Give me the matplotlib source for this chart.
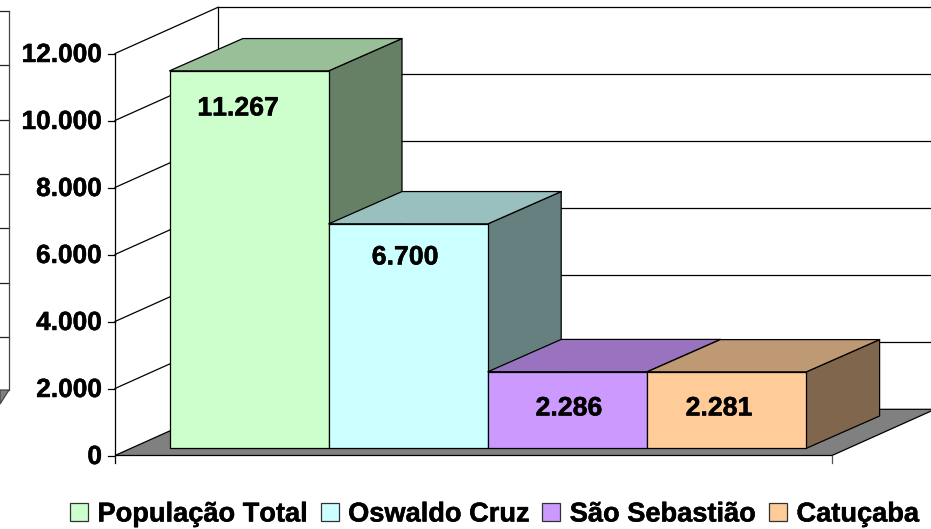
import matplotlib
matplotlib.use('Agg')
import matplotlib.pyplot as plt
import matplotlib.patheffects as pe
from matplotlib.patches import Polygon, Patch

# Dados
categorias = ['População Total', 'Oswaldo Cruz', 'São Sebastião', 'Catuçaba']
populacao = [11267, 6700, 2286, 2281]
rotulos = ['11.267', '6.700', '2.286', '2.281']
ticks = [0, 2000, 4000, 6000, 8000, 10000, 12000]
tick_labels = ['0', '2.000', '4.000', '6.000', '8.000', '10.000', '12.000']

frente = ['#CCFFCC', '#CCFFFF', '#CC99FF', '#FFCC99']
topo = ['#99BF99', '#99BFBF', '#9973BF', '#BF9973']
lado = ['#668066', '#668080', '#664D80', '#80664D']

# Escala: pixels por barra e por habitante
W, H = 931, 529
BAR_PX = 159.2
VAL_PX = 0.0335
X0_PX = 169.5   # inicio da primeira barra
Y0_PX = 455.5   # valor zero no eixo


def xd(px):
    return (px - X0_PX) / BAR_PX


def yd(px):
    return (Y0_PX - px) / VAL_PX


plt.rcParams['font.family'] = ['Liberation Sans', 'DejaVu Sans']
plt.rcParams['font.weight'] = 'bold'
plt.rcParams['text.kerning_factor'] = 6

fig = plt.figure(figsize=(W / 100, H / 100), dpi=100)
ax = fig.add_axes([0, 0, 1, 1])
ax.set_xlim(xd(0), xd(W))
ax.set_ylim(yd(H), yd(0))
ax.axis('off')

# Profundidade da caixa 3D
PAREDE_DX = 103 / BAR_PX
PAREDE_DY = 46.2 / VAL_PX
eixo_esq = xd(115)
eixo_dir = xd(832)
LW = 0.9
# Texto um pouco mais grosso, como no original
grosso = [pe.withStroke(linewidth=0.35, foreground='black')]

# Chao
ax.add_patch(Polygon([(eixo_esq, 0), (eixo_dir, 0),
                      (eixo_dir + PAREDE_DX, PAREDE_DY), (eixo_esq + PAREDE_DX, PAREDE_DY)],
                     facecolor='#808080', edgecolor='black', linewidth=LW, zorder=1))

# Linhas de grade: parede lateral, parede do fundo e marcas do eixo
for t, lab in zip(ticks, tick_labels):
    if t > 0:
        ax.plot([eixo_esq, eixo_esq + PAREDE_DX], [t, t + PAREDE_DY], color='black', lw=LW, zorder=2)
        ax.plot([eixo_esq + PAREDE_DX, eixo_dir + PAREDE_DX], [t + PAREDE_DY, t + PAREDE_DY],
                color='black', lw=LW, zorder=2)
    ax.plot([xd(108), eixo_esq], [t, t], color='black', lw=LW, zorder=2)
    ax.text(xd(102), t - 1.5 / VAL_PX, lab, ha='right', va='center', fontsize=18.9, color='black',
            zorder=6, path_effects=grosso)

ax.plot([eixo_esq, eixo_esq], [yd(463), 12000], color='black', lw=LW, zorder=2)
ax.plot([eixo_esq + PAREDE_DX] * 2, [PAREDE_DY, 12000 + PAREDE_DY], color='black', lw=LW, zorder=2)
ax.plot([eixo_dir, eixo_dir], [yd(463), 0], color='#555555', lw=LW, zorder=2)

# Pedaco do outro grafico que sobrou na margem esquerda
for y in [11, 65, 120, 174, 228, 283, 337]:
    ax.plot([xd(0), xd(9)], [yd(y), yd(y)], color='#222222', lw=LW, zorder=2)
ax.plot([xd(9), xd(9)], [yd(11), yd(390)], color='#444444', lw=LW, zorder=2)
ax.add_patch(Polygon([(xd(0), yd(390)), (xd(9), yd(390)), (xd(0), yd(404))],
                     facecolor='#808080', edgecolor='#444444', linewidth=LW, zorder=2))

# Barras 3D
BASE = (Y0_PX - 448.3) / VAL_PX
BAR_DX = 73.3 / BAR_PX
BAR_DY = 32.3 / VAL_PX
for i, v in enumerate(populacao):
    x0, x1 = i, i + 1
    y0, y1 = BASE, BASE + v
    ax.add_patch(Polygon([(x1, y0), (x1 + BAR_DX, y0 + BAR_DY), (x1 + BAR_DX, y1 + BAR_DY), (x1, y1)],
                         facecolor=lado[i], edgecolor='black', linewidth=LW, joinstyle='round', zorder=3 + i * 0.1))
    ax.add_patch(Polygon([(x0, y1), (x1, y1), (x1 + BAR_DX, y1 + BAR_DY), (x0 + BAR_DX, y1 + BAR_DY)],
                         facecolor=topo[i], edgecolor='black', linewidth=LW, joinstyle='round', zorder=3 + i * 0.1))
    ax.add_patch(Polygon([(x0, y0), (x1, y0), (x1, y1), (x0, y1)],
                         facecolor=frente[i], edgecolor='black', linewidth=LW, joinstyle='round', zorder=3 + i * 0.1))

# Rotulos de dados
rotulo_x = [238, 405, 569, 719]
rotulo_y = [108.5, 257.5, 408.5, 408.5]
for lab, x, y in zip(rotulos, rotulo_x, rotulo_y):
    ax.text(xd(x), yd(y), lab, ha='center', va='center', fontsize=19.2, color='black', zorder=6,
            path_effects=grosso)

# Legenda
handles = [Patch(facecolor=c, edgecolor='#333333', linewidth=LW, label=n) for c, n in zip(frente, categorias)]
leg = ax.legend(handles=handles, ncol=4, frameon=False, fontsize=19.6,
                loc='center', bbox_to_anchor=(494.5 / W, 1 - 514.5 / H), bbox_transform=fig.transFigure,
                handlelength=0.67, handleheight=0.67, handletextpad=0.34, columnspacing=0.46,
                borderpad=0, borderaxespad=0)
for txt in leg.get_texts():
    txt.set_path_effects(grosso)

fig.savefig('out.png', dpi=100)
